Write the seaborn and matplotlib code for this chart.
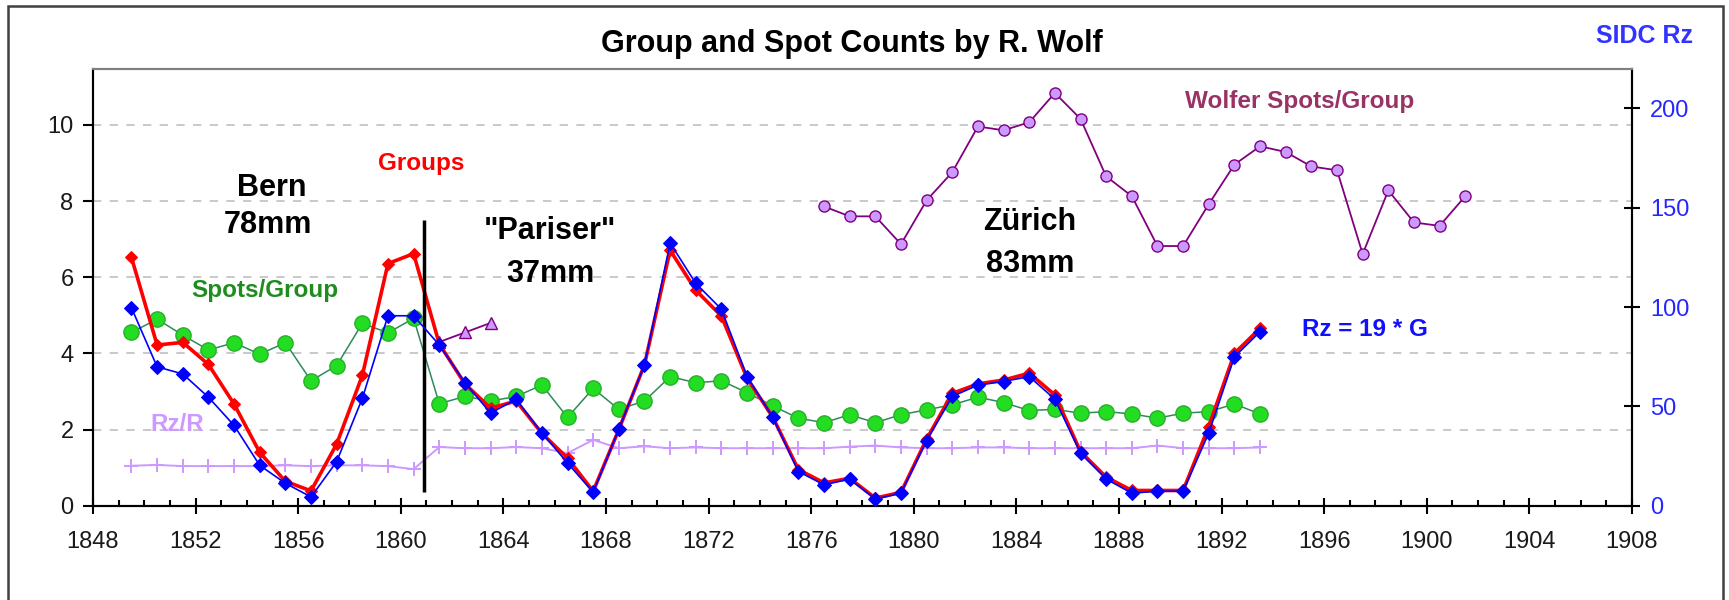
import matplotlib
matplotlib.use("Agg")
import matplotlib.pyplot as plt
import matplotlib.ticker as mticker
from matplotlib.patches import Rectangle
import seaborn as sns

# Годы (точки рисуются в середине года)
years = list(range(1849, 1894))

# Группы (красная линия), левая ось
groups = [6.52, 4.22, 4.29, 3.71, 2.67, 1.40, 0.64, 0.39, 1.62, 3.42,
          6.36, 6.62, 4.25, 3.20, 2.56, 2.75, 1.90, 1.25, 0.38, 2.00,
          3.70, 6.71, 5.66, 4.98, 3.35, 2.33, 0.95, 0.60, 0.72, 0.20,
          0.35, 1.75, 2.95, 3.20, 3.30, 3.48, 2.91, 1.42, 0.75, 0.40,
          0.40, 0.40, 2.08, 4.00, 4.66]

# SIDC Rz (синяя линия), правая ось
sidc_rz = [99.6, 69.9, 66.3, 54.6, 40.4, 20.3, 11.3, 4.4, 22.2, 54.0,
           95.6, 95.6, 80.9, 61.9, 46.6, 53.6, 36.6, 21.5, 6.7, 38.5,
           70.9, 132.2, 111.9, 98.9, 65.0, 44.5, 17.2, 10.5, 13.4, 3.3,
           6.3, 32.8, 55.0, 60.7, 62.5, 65.0, 53.6, 26.4, 13.4, 6.3,
           7.3, 7.3, 36.6, 74.9, 87.6]

# Пятна на группу (зелёная линия)
spots_per_group = [4.55, 4.90, 4.48, 4.09, 4.28, 3.98, 4.28, 3.28, 3.68, 4.79,
                   4.54, 4.92, 2.68, 2.87, 2.75, 2.87, 3.17, 2.32, 3.08, 2.53,
                   2.75, 3.39, 3.23, 3.28, 2.97, 2.62, 2.30, 2.18, 2.39, 2.18,
                   2.39, 2.52, 2.65, 2.85, 2.71, 2.50, 2.53, 2.43, 2.47, 2.41,
                   2.30, 2.43, 2.47, 2.67, 2.41]

# Rz/R (сиреневая линия)
rz_over_r = [1.05, 1.07, 1.04, 1.04, 1.04, 1.04, 1.06, 1.04, 1.06, 1.06,
             1.04, 0.96, 1.54, 1.51, 1.51, 1.54, 1.51, 1.38, 1.73, 1.51,
             1.56, 1.51, 1.53, 1.51, 1.51, 1.51, 1.51, 1.51, 1.55, 1.58,
             1.53, 1.51, 1.51, 1.53, 1.53, 1.51, 1.51, 1.51, 1.51, 1.51,
             1.58, 1.51, 1.51, 1.51, 1.53]

# Вольфер: пятна на группу
wolfer_years = list(range(1876, 1902))
wolfer_spg = [7.86, 7.60, 7.60, 6.87, 8.02, 8.76, 9.96, 9.86, 10.07, 10.84,
              10.16, 8.65, 8.13, 6.82, 6.82, 7.92, 8.96, 9.44, 9.29, 8.91,
              8.81, 6.61, 8.28, 7.44, 7.35, 8.13]

# Вольфер, короткий отрезок (треугольники)
wolfer_early_years = [1861, 1862, 1863]
wolfer_early = [4.30, 4.55, 4.80]

# Смена телескопа
switch_year = 1860.9
switch_span = (0.35, 7.5)

x_mid = [y + 0.5 for y in years]
wolfer_x = [y + 0.5 for y in wolfer_years]
wolfer_early_x = [y + 0.5 for y in wolfer_early_years]

sns.set_theme(style="white")
plt.rcParams['font.family'] = ['Liberation Sans', 'DejaVu Sans']

W, H = 1729, 600
fig = plt.figure(figsize=(W / 100, H / 100), dpi=100)
ax = fig.add_axes([93 / W, 94.3 / H, 1539 / W, 436.7 / H])
ax2 = ax.twinx()

# Линии на левой оси
sns.lineplot(x=x_mid, y=rz_over_r, ax=ax, color='#CC99FF', lw=1.4,
             marker='+', ms=10, mew=1.4, mec='#CC99FF', zorder=2)
sns.lineplot(x=x_mid, y=spots_per_group, ax=ax, color='#2E8B57', lw=1.1,
             marker='o', ms=11, mfc='#22DD22', mec='#2BAE2B', mew=1.0, zorder=3)
sns.lineplot(x=x_mid, y=groups, ax=ax, color='#FF0000', lw=2.6,
             marker='D', ms=6, mfc='#FF0000', mec='#FF0000', zorder=4)
sns.lineplot(x=wolfer_x, y=wolfer_spg, ax=ax, color='#800080', lw=1.3,
             marker='o', ms=8, mfc='#CC99FF', mec='#800080', mew=1.0, zorder=5)
sns.lineplot(x=wolfer_early_x, y=wolfer_early, ax=ax, color='#800080', lw=1.3,
             marker='^', ms=9, mfc='#CC99FF', mec='#800080', mew=1.0, zorder=5)
ax.vlines(switch_year, *switch_span, color='black', lw=2.5, zorder=6)

# SIDC Rz на правой оси
sns.lineplot(x=x_mid, y=sidc_rz, ax=ax2, color='#0000FF', lw=1.2,
             marker='D', ms=7.5, mfc='#0000FF', mec='#0000FF', zorder=5)

ax.set_xlim(1848, 1908)
ax.set_ylim(0, 11.47)
ax2.set_ylim(0, 219.8)

ax.xaxis.set_major_locator(mticker.MultipleLocator(4))
ax.xaxis.set_minor_locator(mticker.MultipleLocator(1))
ax.yaxis.set_major_locator(mticker.MultipleLocator(2))
ax2.yaxis.set_major_locator(mticker.MultipleLocator(50))

ax.yaxis.grid(True, linestyle=(0, (5, 5)), color='#C0C0C0', lw=1.2)
ax.xaxis.grid(False)
ax.set_axisbelow(True)

for a in (ax, ax2):
    for s in a.spines.values():
        s.set_linewidth(1.5)
        s.set_color('black')
    a.spines['top'].set_color('#808080')
    a.set_xlabel('')
    a.set_ylabel('')

ax.tick_params(axis='y', which='major', direction='out', length=7, width=1.5,
               color='black', labelsize=17, labelcolor='#1a1a1a', pad=7, left=True)
ax.tick_params(axis='x', which='major', direction='inout', length=11, width=1.5,
               color='black', labelsize=17, labelcolor='#1a1a1a', pad=13, bottom=True)
ax.tick_params(axis='x', which='minor', direction='in', length=4, width=1.5,
               color='black', bottom=True)
ax2.tick_params(axis='y', which='major', direction='inout', length=12, width=1.5,
                color='black', labelsize=17, labelcolor='#2626FF', pad=7, right=True)

for lg in (ax.get_legend(), ax2.get_legend()):
    if lg is not None:
        lg.remove()


def fx(px):
    return px / W


def fy(py):
    return 1 - py / H


fig.text(fx(852), fy(52), 'Group and Spot Counts by R. Wolf', ha='center',
         va='baseline', fontsize=22, fontweight='bold', color='black')
fig.text(fx(1645), fy(43), 'SIDC Rz', ha='center', va='baseline',
         fontsize=18, fontweight='bold', color='#3333FF')

big = dict(ha='center', va='baseline', fontsize=22, fontweight='bold', color='black')
fig.text(fx(272), fy(196), 'Bern', **big)
fig.text(fx(268), fy(233), '78mm', **big)
fig.text(fx(550), fy(239), '"Pariser"', **big)
fig.text(fx(550), fy(282), '37mm', **big)
fig.text(fx(1030), fy(230), 'Zürich', **big)
fig.text(fx(1030), fy(272), '83mm', **big)

lab = dict(ha='center', va='baseline', fontsize=17.5, fontweight='bold')
fig.text(fx(421), fy(170), 'Groups', color='#FF0000', **lab)
fig.text(fx(265), fy(297), 'Spots/Group', color='#1E8C1E', **lab)
fig.text(fx(177), fy(431), 'Rz/R', color='#CC99FF', **lab)
fig.text(fx(1300), fy(108), 'Wolfer Spots/Group', color='#993366', **lab)
fig.text(fx(1365), fy(336), 'Rz = 19 * G', color='#1010FF', **lab)

# Рамка области диаграммы
fig.patches.append(Rectangle((fx(8), -0.02), fx(1723) - fx(8), fy(6) + 0.02,
                             transform=fig.transFigure, fill=False,
                             edgecolor='#404040', lw=1.8))

fig.savefig('out.png', dpi=100)
